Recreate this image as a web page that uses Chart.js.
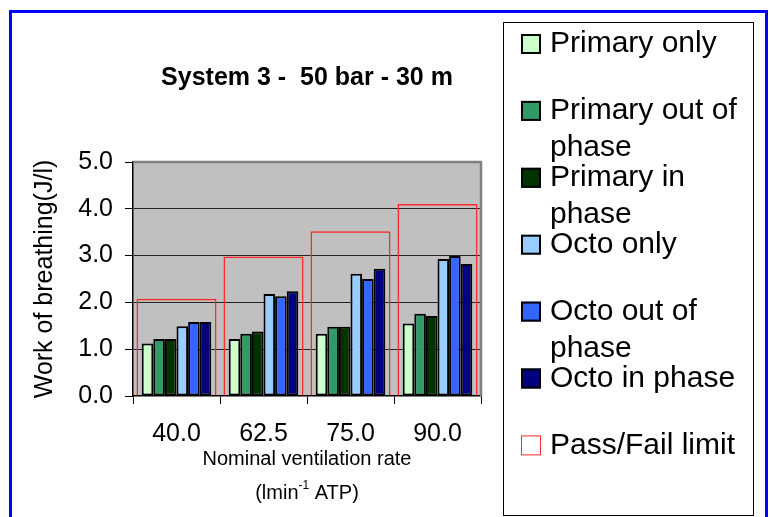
<!DOCTYPE html>
<html>
<head>
<meta charset="utf-8">
<script src="https://cdn.jsdelivr.net/npm/chart.js@4.4.0/dist/chart.umd.min.js"></script>
<style>
  html, body { margin: 0; padding: 0; background: #fff; }
  #wrap { width: 771px; height: 517px; }
</style>
</head>
<body>
<div id="wrap"><canvas id="c" width="771" height="517"></canvas></div>
<script>
// Nominal ventilation rates (l/min ATP)
const categories = ['40.0', '62.5', '75.0', '90.0'];

// Work of breathing (J/l) per configuration
const primaryOnly = [1.12, 1.22, 1.33, 1.55];
const primaryOutOfPhase = [1.22, 1.33, 1.48, 1.76];
const primaryInPhase = [1.22, 1.38, 1.48, 1.71];
const octoOnly = [1.49, 2.18, 2.61, 2.93];
const octoOutOfPhase = [1.58, 2.13, 2.50, 2.99];
const octoInPhase = [1.58, 2.24, 2.72, 2.82];
const passFailLimit = [2.08, 2.98, 3.52, 4.10];

const seriesLabels = ['Primary only', 'Primary out of phase', 'Primary in phase',
                      'Octo only', 'Octo out of phase', 'Octo in phase', 'Pass/Fail limit'];
const yTickValues = [0, 1, 2, 3, 4, 5];

const chartTitle = 'System 3 -  50 bar - 30 m';
const yTitle = 'Work of breathing(J/l)';
const xTitleLine1 = 'Nominal ventilation rate';
const xTitleLine2 = ['(lmin', '-1', ' ATP)'];   // base, superscript, rest

const FONT = '"Liberation Sans", Arial, Helvetica, sans-serif';
Chart.defaults.font.family = FONT;
Chart.defaults.color = '#000';

const fills = ['#CCFFCC', '#339966', '#003300', '#99CCFF', '#3366FF', '#000080'];
const seriesData = [primaryOnly, primaryOutOfPhase, primaryInPhase, octoOnly, octoOutOfPhase, octoInPhase];

const datasets = seriesData.map((d, i) => ({
  label: seriesLabels[i],
  data: d,
  backgroundColor: fills[i],
  borderColor: '#000',
  borderWidth: 2,
  borderSkipped: false,
  categoryPercentage: 0.8,
  barPercentage: 1.0
}));
// limit outline spans the whole category, drawn outside the grouping
datasets.push({
  label: seriesLabels[6],
  data: passFailLimit,
  backgroundColor: 'rgba(0,0,0,0)',
  borderColor: '#FF2A2A',
  borderWidth: 1.5,
  grouped: false,
  categoryPercentage: 1.0,
  barPercentage: 0.92,
  outlineOnly: true
});

// word wrap helper for the boxed legend
function wrapText(ctx, text, maxW) {
  const words = text.split(' ');
  const lines = [];
  let cur = '';
  words.forEach(w => {
    const test = cur ? cur + ' ' + w : w;
    if (cur && ctx.measureText(test).width > maxW) { lines.push(cur); cur = w; }
    else cur = test;
  });
  if (cur) lines.push(cur);
  return lines;
}

const frame = {
  id: 'frame',
  beforeDraw(chart) {
    const { ctx, chartArea: a } = chart;
    ctx.save();
    ctx.fillStyle = '#fff';
    ctx.fillRect(0, 0, chart.width, chart.height);
    ctx.fillStyle = '#C0C0C0';
    ctx.fillRect(a.left, a.top, a.right - a.left, a.bottom - a.top);
    ctx.restore();
  },
  afterDatasetsDraw(chart) {
    const { ctx, chartArea: a } = chart;
    ctx.save();
    ctx.strokeStyle = '#808080';
    ctx.lineWidth = 2.5;
    ctx.beginPath();
    ctx.moveTo(a.left, a.top);
    ctx.lineTo(a.right, a.top);
    ctx.lineTo(a.right, a.bottom);
    ctx.stroke();
    ctx.restore();
  },
  afterDraw(chart) {
    const { ctx, chartArea: a } = chart;
    ctx.save();
    // x axis title (two lines, second with superscript)
    const cx = (a.left + a.right) / 2;
    ctx.fillStyle = '#000';
    ctx.textBaseline = 'middle';
    ctx.textAlign = 'center';
    ctx.font = '20px ' + FONT;
    ctx.fillText(xTitleLine1, cx, 459);
    ctx.textAlign = 'left';
    const big = '20px ' + FONT, small = '12px ' + FONT;
    ctx.font = big; const w1 = ctx.measureText(xTitleLine2[0]).width;
    ctx.font = small; const w2 = ctx.measureText(xTitleLine2[1]).width;
    ctx.font = big; const w3 = ctx.measureText(xTitleLine2[2]).width;
    let x = cx - (w1 + w2 + w3) / 2;
    ctx.font = big; ctx.fillText(xTitleLine2[0], x, 493); x += w1;
    ctx.font = small; ctx.fillText(xTitleLine2[1], x, 486); x += w2;
    ctx.font = big; ctx.fillText(xTitleLine2[2], x, 493);

    // boxed legend
    ctx.strokeStyle = '#000';
    ctx.lineWidth = 1;
    ctx.strokeRect(503.5, 22.5, 250, 493);
    ctx.font = '30px ' + FONT;
    ctx.textBaseline = 'middle';
    chart.data.datasets.forEach((ds, i) => {
      const y = 44 + 66.9 * i;
      if (ds.outlineOnly) {
        ctx.fillStyle = '#fff';
        ctx.fillRect(521, y - 10, 20, 20);
        ctx.strokeStyle = ds.borderColor;
        ctx.lineWidth = 1;
        ctx.strokeRect(521.5, y - 9.5, 19, 19);
      } else {
        ctx.fillStyle = ds.backgroundColor;
        ctx.fillRect(521, y - 10, 20, 20);
        ctx.strokeStyle = '#000';
        ctx.lineWidth = 2;
        ctx.strokeRect(522, y - 9, 18, 18);
      }
      ctx.fillStyle = '#000';
      wrapText(ctx, ds.label, 196).forEach((ln, k) => ctx.fillText(ln, 550, y + k * 37));
    });

    // outer blue frame
    ctx.strokeStyle = '#0000FF';
    ctx.lineWidth = 3;
    ctx.strokeRect(10.5, 11.5, 756, 530);
    ctx.restore();
  }
};

new Chart(document.getElementById('c'), {
  type: 'bar',
  data: { labels: categories, datasets },
  options: {
    responsive: false,
    animation: false,
    layout: { padding: { left: 26, right: 290, top: 0, bottom: 0 } },
    plugins: {
      legend: { display: false },
      tooltip: { enabled: false },
      title: {
        display: true,
        text: chartTitle,
        fullSize: false,
        color: '#000',
        font: { size: 25, weight: 'bold' },
        padding: { top: 63, bottom: 69 }
      }
    },
    scales: {
      x: {
        type: 'category',
        offset: true,
        grid: { display: true, drawOnChartArea: false, offset: true, tickLength: 8, color: '#000', tickColor: '#000' },
        border: { color: '#000', width: 1.5 },
        ticks: { font: { size: 25 }, color: '#000', padding: 15, maxRotation: 0, autoSkip: false },
        afterFit(s) { s.height = 121; }
      },
      y: {
        min: 0,
        max: 5,
        afterBuildTicks(s) { s.ticks = yTickValues.map(v => ({ value: v })); },
        ticks: { font: { size: 25 }, color: '#000', padding: 12, callback: v => Number(v).toFixed(1) },
        grid: {
          color: c => (c.tick && (c.tick.value === 0 || c.tick.value === 5)) ? 'rgba(0,0,0,0)' : '#222',
          tickColor: '#000',
          tickLength: 8,
          lineWidth: 1
        },
        border: { color: '#000', width: 1.5 },
        title: { display: true, text: yTitle, font: { size: 25 }, color: '#000', padding: { top: 4, bottom: 4 } },
        afterFit(s) { s.width = 107; }
      }
    }
  },
  plugins: [frame]
});
</script>
</body>
</html>
